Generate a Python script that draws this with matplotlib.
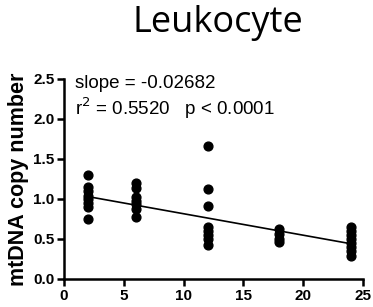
import matplotlib.pyplot as plt
import numpy as np

plt.rcParams['font.family'] = ['Liberation Sans', 'DejaVu Sans']

# data
x_2 = [1.30, 1.15, 1.10, 1.04, 1.00, 0.95, 0.90, 0.75]
x_6 = [1.20, 1.14, 1.02, 0.98, 0.94, 0.88, 0.77]
x_12 = [1.66, 1.13, 0.91, 0.65, 0.60, 0.55, 0.50, 0.42]
x_18 = [0.62, 0.56, 0.50, 0.46]
x_24 = [0.65, 0.60, 0.55, 0.50, 0.45, 0.40, 0.35, 0.29]
groups = {2: x_2, 6: x_6, 12: x_12, 18: x_18, 24: x_24}

slope = -0.02682
intercept = 1.084
fit_x = [2, 24]

fig = plt.figure(figsize=(3.73, 3.07), dpi=100)
ax = fig.add_axes([64/373, 28/307, 299/373, 200/307])

for xv, ys in groups.items():
    ax.scatter([xv] * len(ys), ys, s=40, c='black', zorder=3)

fx = np.array(fit_x)
ax.plot(fx, slope * fx + intercept, color='black', lw=1.2, zorder=2)

ax.set_xlim(0, 25)
ax.set_ylim(0, 2.5)
ax.set_xticks([0, 5, 10, 15, 20, 25])
ax.set_yticks([0.0, 0.5, 1.0, 1.5, 2.0, 2.5])
ax.set_yticklabels(['0.0', '0.5', '1.0', '1.5', '2.0', '2.5'])
for s in ['top', 'right']:
    ax.spines[s].set_visible(False)
for s in ['left', 'bottom']:
    ax.spines[s].set_linewidth(1.8)
ax.tick_params(width=1.8, length=5, labelsize=11, pad=2)
for lab in ax.get_xticklabels() + ax.get_yticklabels():
    lab.set_fontweight('bold')

ax.set_ylabel('mtDNA copy number', fontsize=15.5, fontweight='bold', labelpad=3)
fig.text(0.585, 0.925, 'Leukocyte', fontsize=26, ha='center', va='center',
         family=['Open Sans', 'DejaVu Sans'])

ax.text(0.9, 2.45, 'slope = -0.02682', fontsize=13.5, va='center')
ax.text(0.9, 2.14, r'r$^2$ = 0.5520   p < 0.0001', fontsize=13.5, va='center')

fig.savefig('out.png', dpi=100)
